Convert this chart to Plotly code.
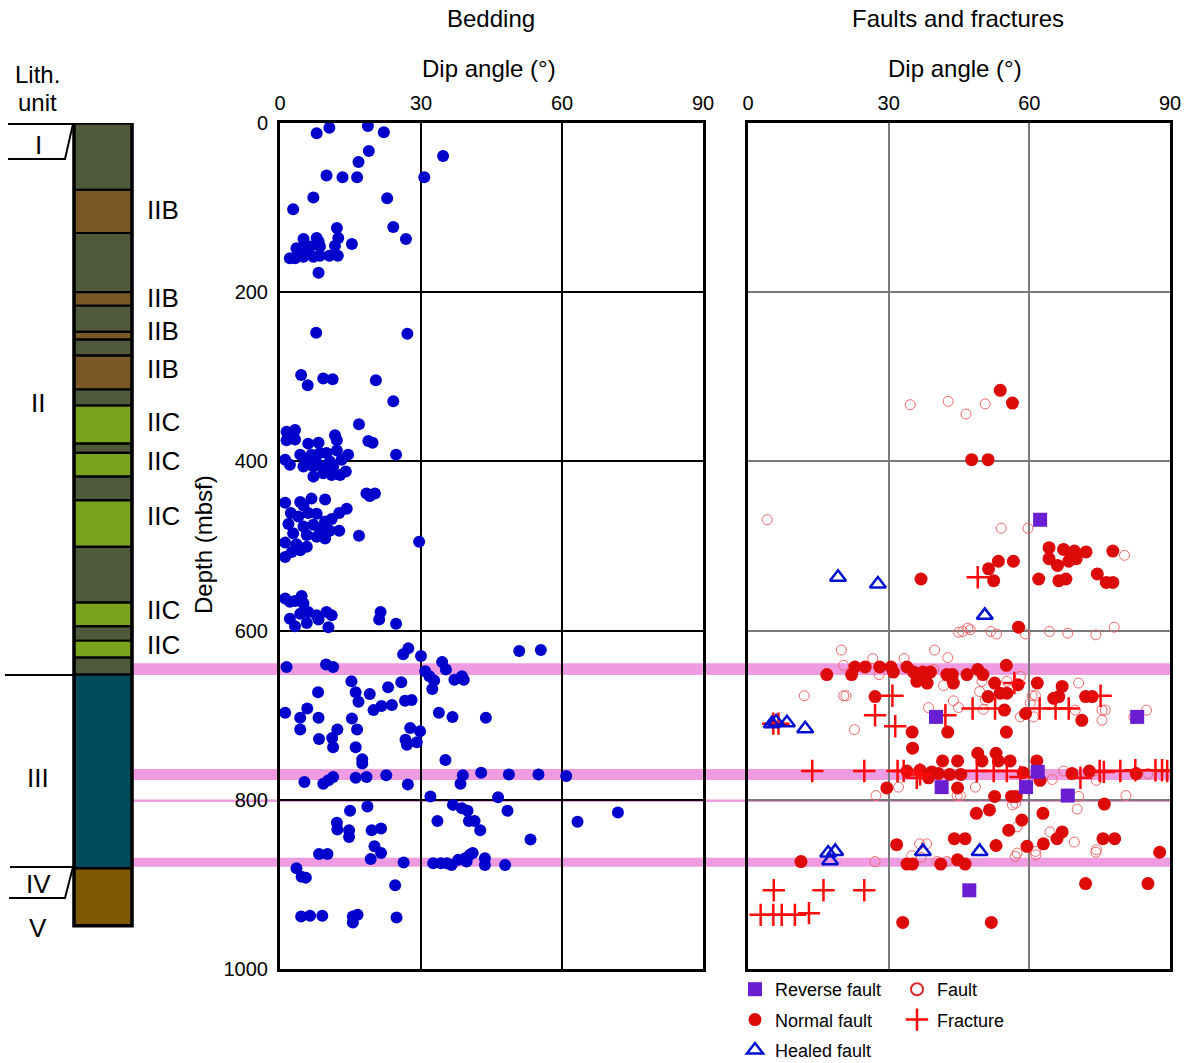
import plotly.graph_objects as go

W, H = 1195, 1063


def px(x):
    return x / W


def py(y):
    return 1 - y / H


# ---- Bedding dips (degrees) and depths (mbsf)
bed_dip = [
    7.8, 10.5, 18.7, 22.1, 34.7, 18.9, 16.7, 9.9, 13.3, 16.4, 30.7, 7.1, 22.8, 2.8, 12.1, 24.1, 26.8, 12.4, 11.7, 15.3,
    5.0, 7.8, 8.2, 3.5, 5.0, 6.4, 8.5, 2.1, 3.2, 5.0, 7.1, 8.5, 10.5, 12.3, 8.2, 4.3, 5.7,
    7.7, 27.1, 4.5, 5.9, 9.2, 11.2, 20.4, 24.1, 16.8, 1.4, 3.2, 1.4, 3.2, 11.7, 12.1, 6.0, 8.2, 18.8, 19.7, 4.3, 12.1,
    14.5, 24.7, 1.1, 2.1, 6.7, 8.5, 9.9, 5.0, 7.1, 9.2, 11.3, 13.1, 7.1, 9.2, 11.0, 12.8, 14.0, 5.7, 7.8, 10.6,
    18.4, 20.2, 19.1, 1.1, 4.3, 6.7, 9.6, 5.0, 14.2, 12.6, 2.3, 3.9, 6.0, 7.8, 11.0, 9.6, 1.8, 5.0, 7.1, 8.5, 10.6,
    12.6, 2.8, 5.7, 7.8, 9.6, 16.8, 29.6, 1.1, 3.5, 5.7, 1.1, 2.5, 4.3, 1.1, 2.1, 4.6, 5.0, 3.2, 4.3, 6.0, 7.8, 9.9,
    11.0, 2.1, 3.2, 5.7, 8.2, 10.3, 21.4, 21.1, 24.7,
    26.2, 27.3, 30.0, 50.9, 55.5, 1.4, 9.8, 11.3, 34.5, 35.3, 30.9, 31.8, 32.8, 32.4, 37.1, 38.7, 39.1, 15.2, 8.1,
    16.1, 16.7, 19.1, 23.0, 25.8, 19.9, 21.6, 23.8, 26.6, 28.0, 1.1, 5.8, 4.3, 8.2, 15.3, 33.8, 36.7, 43.8, 4.3,
    12.2, 16.4, 27.7, 29.8, 8.3, 11.1, 11.3, 16.1, 26.7, 27.0, 29.1, 17.5, 17.5, 35.2, 5.2, 9.2, 10.3, 11.3, 16.1,
    18.4, 22.6, 27.2, 38.9, 38.4, 42.8, 48.7, 55.0, 60.9,
    32.0, 46.4, 48.4, 36.8, 38.7, 39.9, 33.5, 40.2, 41.4, 42.6, 53.3, 63.3, 18.6, 14.9, 12.1, 12.2, 14.7, 14.7, 19.5,
    21.5, 20.1, 21.5, 8.3, 10.1, 19.3, 26.3, 32.6, 34.2, 35.5, 36.5, 37.9, 39.4, 40.4, 41.0, 39.7, 43.6, 43.6, 47.9,
    3.5, 4.6, 5.5, 24.5, 4.5, 6.4, 9.0, 15.5, 16.5, 15.5, 24.8, 71.9,
]
bed_depth = [
    12, 5.5, 3.5, 11, 39, 33, 46, 62, 64, 64, 64, 88, 89, 102, 124, 123, 137, 136, 145, 143,
    137, 136, 140, 148, 146, 146, 146, 160, 160, 158, 158, 157, 157, 157, 177, 152, 154,
    248, 249, 298, 310, 302, 303, 304, 329, 356, 365, 363, 375, 374, 369, 375, 379, 378, 376, 378, 392, 387,
    392, 392, 398, 404, 392, 390, 390, 406, 406, 406, 406, 398, 418, 414, 416, 416, 412, 400, 402, 400,
    438, 438, 441, 449, 448, 444, 445, 452, 456, 461, 461, 465, 461, 462, 468, 471, 474, 477, 475, 479, 482,
    482, 485, 487, 489, 491, 488, 495, 496, 498, 501, 513, 507, 505, 562, 566, 559, 568, 565, 580, 578, 582, 578,
    582, 586, 595, 591, 587, 596, 578, 587, 592,
    628, 621, 630, 624, 623, 643, 640, 643, 637, 646, 648, 654, 659, 669, 658, 654, 658, 660, 673,
    673, 684, 675, 667, 661, 694, 689, 688, 683, 682, 697, 692, 703, 703, 704, 697, 702, 703, 717,
    717, 717, 715, 719, 728, 727, 738, 738, 729, 735, 732, 752, 757, 753, 779, 781, 777, 773, 774,
    773, 771, 782, 771, 781, 768, 770, 770, 772,
    796, 797, 813, 806, 810, 813, 825, 825, 825, 836, 847, 826, 808, 813, 827, 835, 836, 844, 836,
    834, 855, 863, 864, 864, 870, 874, 875, 875, 875, 877, 871, 869, 865, 863, 873, 869, 877, 877,
    881, 891, 892, 901, 938, 937, 937, 938, 936, 945, 939, 815,
]

# ---- Faults and fractures
normal_dip = [
    53.8, 56.4, 47.7, 51.2,
    64.2, 67.3, 69.6, 72.1, 64.2, 66.0, 68.4, 70.0, 77.8, 68.8,
    74.5, 76.4, 77.8, 62.0, 66.3, 67.8, 36.9, 51.3, 53.4, 56.6, 52.4, 57.7,
    16.8, 22.1, 22.8, 25.0, 28.1, 30.5, 31.0, 33.9, 35.3, 37.3, 38.9, 36.0, 38.2, 42.4, 43.6, 43.8, 46.7, 49.0,
    50.1, 55.1, 52.6, 57.6, 61.7, 67.0, 65.2, 66.3, 72.0, 73.4, 27.1, 51.2, 53.8, 55.2, 54.7, 59.2, 71.2, 35.0,
    42.6, 55.1,
    33.9, 36.7, 39.2, 40.6, 38.5, 43.0, 45.4, 41.5, 44.7, 49.0, 49.9, 52.9, 53.4, 55.9, 58.7, 61.6, 62.3, 69.1,
    72.8, 82.8, 29.6, 44.7, 52.6, 56.2, 57.2, 35.1, 48.7, 51.5, 58.4, 62.9, 76.0, 55.6, 65.9, 67.0, 75.7, 78.2,
    44.0, 46.3, 63.0, 52.9, 31.7, 59.5, 87.8,
    11.3, 33.9, 35.1, 41.1, 44.7, 46.3, 72.0, 85.3, 33.0, 51.9,
]
normal_depth = [
    316, 331, 398, 398,
    502, 504, 506, 507, 515, 523, 518, 515, 506, 509,
    533, 543, 543, 539, 541, 539, 539, 527, 518, 518, 541, 596,
    652, 652, 643, 643, 643, 643, 649, 643, 649, 649, 649, 660, 662, 652, 652, 662, 652, 646,
    652, 641, 662, 664, 662, 666, 680, 678, 678, 678, 678, 678, 674, 674, 694, 698, 706, 720,
    720, 720,
    766, 765, 767, 769, 774, 770, 770, 754, 754, 745, 754, 745, 754, 754, 768, 754, 777, 769,
    766, 769, 786, 786, 796, 796, 796, 739, 816, 812, 824, 816, 805, 836, 846, 838, 846, 846,
    846, 846, 852, 854, 853, 855, 862,
    873, 876, 876, 876, 871, 876, 899, 899, 945, 945,
]

fault_dip = [
    34.6, 42.7, 46.5, 50.6, 4.1, 54.0, 59.7, 80.3,
    44.9, 45.8, 46.9, 47.4, 51.8, 53.0, 59.1, 64.3, 68.2, 74.2, 78.1,
    19.9, 39.8, 26.6, 33.3, 42.6, 20.4, 12.0, 20.4, 20.9, 22.7, 38.5, 43.8, 44.9, 49.4, 50.6, 50.2, 49.9, 55.2,
    58.1, 60.6, 61.3, 60.2, 60.9, 58.1, 70.5, 69.8, 75.5, 76.2, 75.5, 82.3, 85.0, 28.0, 39.6, 41.7,
    32.1, 27.3, 48.5, 45.3, 44.6, 64.9, 67.3, 74.3, 85.3, 70.5, 70.2, 80.6, 56.4, 57.1, 57.4, 64.4, 69.6, 74.3,
    36.6, 38.1, 57.4, 61.3,
    27.1, 34.9, 36.9, 40.3, 42.4, 57.0, 61.4, 74.2,
]
fault_depth = [
    333, 329, 344, 332, 469, 479, 479, 511,
    602, 601, 597, 599, 601, 604, 604, 601, 603, 605, 596,
    623, 623, 633, 633, 632, 641, 677, 677, 677, 717, 691, 683, 691, 672, 682, 693, 660, 660,
    654, 677, 677, 686, 702, 702, 662, 694, 694, 694, 706, 702, 694, 652, 646, 665,
    785, 795, 785, 795, 795, 776, 766, 777, 769, 796, 811, 795, 806, 804, 832, 838, 850, 859,
    852, 852, 863, 861,
    873, 866, 868, 873, 873, 867, 865, 862,
]

fracture_dip = [
    49.0, 30.8, 27.1, 31.4, 42.1, 47.9, 52.7, 56.8, 62.2, 65.6, 68.4, 75.2, 5.4, 6.5,
    13.7, 24.8, 31.9, 33.2, 36.7, 36.0, 48.8, 52.4, 55.2, 58.1, 70.9, 75.0, 75.9, 79.4, 82.6, 86.9, 88.3, 89.4,
    5.5, 16.1, 24.8, 2.7, 5.4, 7.2, 10.0, 13.0,
]
fracture_depth = [
    537, 677, 700, 713, 700, 692, 692, 662, 692, 692, 692, 677, 710, 710,
    766, 766, 766, 766, 770, 774, 766, 766, 766, 773, 774, 766, 767, 766, 765, 765, 765, 766,
    907, 907, 907, 936, 936, 936, 936, 934,
]

reverse_dip = [62.3, 40.1, 83.0, 41.3, 59.3, 61.8, 68.2, 47.2]
reverse_depth = [469, 702, 702, 785, 785, 767, 795, 907]

healed_dip = [19.2, 27.7, 50.5, 5.1, 6.0, 8.3, 12.2, 17.1, 18.6, 17.5, 37.3, 49.4]
healed_depth = [537, 545, 582, 710, 708, 709, 716, 863, 861, 872, 861, 861]

# ---- Lithology column (top, bottom, colour) and unit labels
lith_top = [0, 79, 130, 200, 216, 247, 256, 275, 315, 334, 379, 390, 418, 446, 501, 567, 595, 612, 632, 652, 881]
lith_base = [79, 130, 200, 216, 247, 256, 275, 315, 334, 379, 390, 418, 446, 501, 567, 595, 612, 632, 652, 881, 949]
lith_kind = ["IIA", "IIB", "IIA", "IIB", "IIA", "IIB", "IIA", "IIB", "IIA", "IIC", "IIA", "IIC", "IIA", "IIC",
             "IIA", "IIC", "IIA", "IIC", "IIA", "III", "V"]
lith_colors = {"IIA": "#4E5A3A", "IIB": "#7A5825", "IIC": "#7AA41E", "III": "#004C5E", "V": "#7E5904"}

sub_labels = ["IIB", "IIB", "IIB", "IIB", "IIC", "IIC", "IIC", "IIC", "IIC"]
sub_label_depth = [103, 207, 246, 291, 354, 400, 464, 576, 617]

unit_labels = ["I", "II", "III", "IV", "V"]
unit_label_depth = [26, 331, 774, 900, 952]

# ---- Highlighted depth intervals
band_top = [638.5, 763.5, 799.5, 868.5]
band_base = [652.5, 776.5, 802.5, 879.0]

xticks = [0, 30, 60, 90]
yticks = [0, 200, 400, 600, 800, 1000]

FONT = "Liberation Sans, Arial, Helvetica, sans-serif"
TICKFONT = dict(size=20, color="black", family=FONT)
LEGFONT = dict(size=18, family=FONT, color="black")

fig = go.Figure()

fig.add_trace(go.Scatter(
    x=bed_dip, y=bed_depth, mode="markers", xaxis="x", yaxis="y",
    marker=dict(color="#0000CC", size=12, line=dict(width=0)),
    showlegend=False, hoverinfo="x+y",
))

fig.add_trace(go.Scatter(
    x=fault_dip, y=fault_depth, mode="markers", xaxis="x2", yaxis="y2", name="Fault",
    marker=dict(symbol="circle-open", color="#EE6868", size=10, line=dict(width=1)),
    showlegend=False,
))
# legend key for the open-circle faults, drawn a little bolder than the data marks
fig.add_trace(go.Scatter(
    x=[None], y=[None], mode="markers", xaxis="x2", yaxis="y2", name="Fault",
    marker=dict(symbol="circle-open", color="#E02828", size=12, line=dict(width=2)),
    legend="legend2", legendgroup="f", legendrank=1, hoverinfo="skip",
))
fig.add_trace(go.Scatter(
    x=normal_dip, y=normal_depth, mode="markers", xaxis="x2", yaxis="y2", name="Normal fault",
    marker=dict(symbol="circle", color="#DD0A0A", size=13, line=dict(width=0)),
    legend="legend", legendgroup="n", legendrank=2,
))
fig.add_trace(go.Scatter(
    x=fracture_dip, y=fracture_depth, mode="markers", xaxis="x2", yaxis="y2", name="Fracture",
    marker=dict(symbol="cross-thin-open", color="#FF0A0A", size=16, line=dict(width=2.5, color="#FF0A0A")),
    legend="legend2", legendgroup="fr", legendrank=2,
))
fig.add_trace(go.Scatter(
    x=reverse_dip, y=reverse_depth, mode="markers", xaxis="x2", yaxis="y2", name="Reverse fault",
    marker=dict(symbol="square", color="#6A1ED2", size=14, line=dict(width=0)),
    legend="legend", legendgroup="r", legendrank=1,
))
fig.add_trace(go.Scatter(
    x=healed_dip, y=healed_depth, mode="markers", xaxis="x2", yaxis="y2", name="Healed fault",
    marker=dict(symbol="triangle-up-open", color="#0010D0", size=14, line=dict(width=2.5, color="#0010D0")),
    legend="legend", legendgroup="h", legendrank=3,
))

shapes = []
# highlighted intervals across both panels
for t, b in zip(band_top, band_base):
    shapes.append(dict(type="rect", xref="paper", yref="y", x0=px(132), x1=px(1170), y0=t, y1=b,
                       fillcolor="#EF9BE2", line=dict(width=0), layer="below"))
# lithology column
for t, b, k in zip(lith_top, lith_base, lith_kind):
    shapes.append(dict(type="rect", xref="paper", yref="y", x0=px(74), x1=px(132), y0=t, y1=b,
                       fillcolor=lith_colors[k], line=dict(width=2.2, color="black"), layer="above"))
shapes.append(dict(type="rect", xref="paper", yref="y", x0=px(74), x1=px(132), y0=lith_top[0],
                   y1=lith_base[-1], line=dict(width=3.5, color="black"), layer="above"))


def ppath(points):
    return "M " + " L ".join(f"{px(x):.5f},{py(y):.5f}" for x, y in points)


line_style = dict(width=2, color="black")
shapes.append(dict(type="path", xref="paper", yref="paper",
                   path=ppath([(8, 124), (73, 124), (65, 159), (8, 159)]), line=line_style))
shapes.append(dict(type="path", xref="paper", yref="paper",
                   path=ppath([(5, 675), (74, 675)]), line=line_style))
shapes.append(dict(type="path", xref="paper", yref="paper",
                   path=ppath([(10, 867), (73, 867), (65, 898), (9, 898)]), line=line_style))

annotations = []


def note(text, x, y, size=24, **kw):
    annotations.append(dict(text=text, x=px(x), y=py(y), xref="paper", yref="paper", showarrow=False,
                            xanchor="center", yanchor="middle",
                            font=dict(size=size, color="black", family=FONT), **kw))


note("Bedding", 491, 19)
note("Dip angle (°)", 489, 68)
note("Faults and fractures", 958, 19)
note("Dip angle (°)", 955, 68)
note("Lith.", 37, 75)
note("unit", 37, 103)
note("Depth (mbsf)", 203, 545, textangle=-90)

for lab, d in zip(sub_labels, sub_label_depth):
    annotations.append(dict(text=lab, x=px(145), y=d, xref="paper", yref="y", xanchor="left", yanchor="middle",
                            showarrow=False, font=dict(size=26, color="black", family=FONT)))
for lab, d in zip(unit_labels, unit_label_depth):
    annotations.append(dict(text=lab, x=px(38), y=d, xref="paper", yref="y", xanchor="center",
                            yanchor="middle", showarrow=False, font=dict(size=26, color="black", family=FONT)))

x_common = dict(range=[0, 90], tickvals=xticks, side="top", showline=True, mirror=True, linecolor="black",
                linewidth=3, ticks="", tickfont=TICKFONT, zeroline=False,
                ticklabelstandoff=2, fixedrange=True, automargin=False)
y_common = dict(range=[1000, 0], tickvals=yticks, showline=True, mirror=True, linecolor="black", linewidth=3,
                ticks="", tickfont=TICKFONT, zeroline=False,
                domain=[py(969), py(123)], fixedrange=True, automargin=False)

fig.update_layout(
    width=W, height=H, margin=dict(l=0, r=0, t=0, b=0, autoexpand=False),
    paper_bgcolor="white", plot_bgcolor="rgba(0,0,0,0)",
    font=dict(family=FONT, color="black"),
    xaxis=dict(domain=[px(280), px(703)], anchor="y", gridcolor="black", gridwidth=2, **x_common),
    yaxis=dict(anchor="x", gridcolor="black", gridwidth=2, showticklabels=True, ticklabelstandoff=5, **y_common),
    xaxis2=dict(domain=[px(748), px(1170)], anchor="y2", gridcolor="#7A7A7A", gridwidth=1.5, **x_common),
    yaxis2=dict(anchor="x2", gridcolor="#7A7A7A", gridwidth=1.5, showticklabels=False, **y_common),
    shapes=shapes,
    annotations=annotations,
    legend=dict(x=px(735), y=py(971), xanchor="left", yanchor="top", bgcolor="rgba(0,0,0,0)",
                font=LEGFONT, tracegroupgap=4, itemwidth=30),
    legend2=dict(x=px(897), y=py(971), xanchor="left", yanchor="top", bgcolor="rgba(0,0,0,0)",
                 font=LEGFONT, tracegroupgap=4, itemwidth=30),
)

fig.write_html("out.html")
